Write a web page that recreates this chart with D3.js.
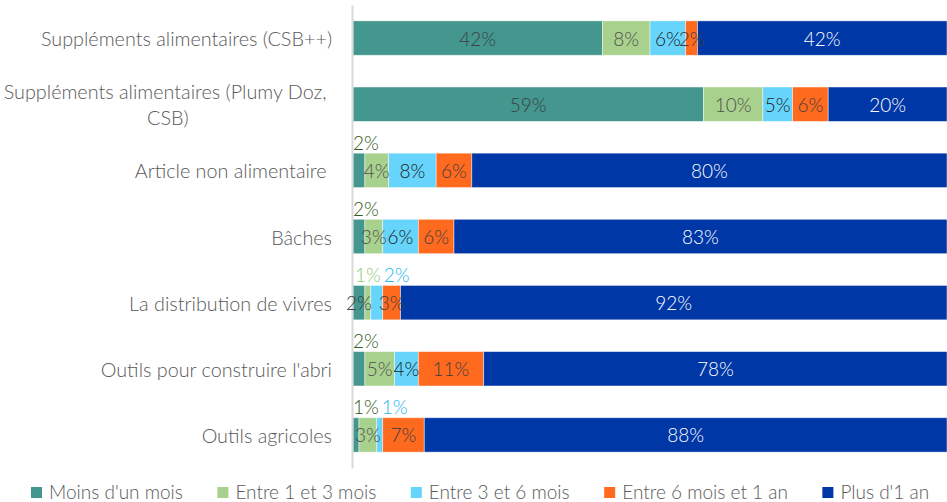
<!DOCTYPE html>
<html>
<head>
<meta charset="utf-8">
<script src="https://cdn.jsdelivr.net/npm/d3@7"></script>
<style>
  html, body { margin: 0; padding: 0; background: #fff; }
  svg { display: block; font-family: "Lato", "Open Sans", sans-serif; font-weight: 300; }
  text { white-space: pre; }
</style>
</head>
<body>
<svg id="chart" width="947" height="502"></svg>
<script>
// Categories (top to bottom); a "\n" marks a forced line break in the label
const categories = [
  "Suppléments alimentaires (CSB++)",
  "Suppléments alimentaires (Plumy Doz, \nCSB)",
  "Article non alimentaire ",
  "Bâches",
  "La distribution de vivres",
  "Outils pour construire l'abri",
  "Outils agricoles"
];

// Series names (legend order, stacked left to right)
const seriesNames = [
  "Moins d'un mois",
  "Entre 1 et 3 mois",
  "Entre 3 et 6 mois",
  "Entre 6 mois et 1 an",
  "Plus d'1 an"
];

// Shares in percent, one array per series, in category order
const moinsUnMois   = [42, 59, 2, 2, 2, 2, 1];
const entre1et3     = [8, 10, 4, 3, 1, 5, 3];
const entre3et6     = [6, 5, 8, 6, 2, 4, 1];
const entre6et12    = [2, 6, 6, 6, 3, 11, 7];
const plusUnAn      = [42, 20, 80, 83, 92, 78, 88];

// Data labels that sit above their bar: [category index, series index]
const labelsAbove = [[2, 0], [3, 0], [4, 1], [4, 2], [5, 0], [6, 0], [6, 2]];

const seriesValues = [moinsUnMois, entre1et3, entre3et6, entre6et12, plusUnAn];
const colors      = ["#43978e", "#a9d18e", "#66d4fb", "#ff6a1f", "#0037a6"];
const insideInk   = ["#3f3f3f", "#505050", "#1b1b1b", "#404040", "#ffffff"];
const aboveInk    = ["#2f5a20", "#98c77a", "#22b8ee", "#404040", "#404040"];

const svg = d3.select("#chart");
const plotLeft = 353, plotRight = 947, plotTop = 5, plotBottom = 468;

const x = d3.scaleLinear().domain([0, 100]).range([plotLeft, plotRight]);
const y = d3.scaleBand().domain(d3.range(categories.length))
  .range([plotTop, plotBottom]).paddingInner(0.48).paddingOuter(0.24);

// Build rows and stack
const rows = categories.map((c, i) => {
  const r = { idx: i };
  seriesNames.forEach((s, k) => { r[s] = seriesValues[k][i]; });
  return r;
});
const stacked = d3.stack().keys(seriesNames)(rows);

// Bars
const layers = svg.append("g").selectAll("g").data(stacked).join("g")
  .attr("fill", (d, k) => colors[k]);
layers.selectAll("rect").data(d => d).join("rect")
  .attr("x", d => x(d[0]))
  .attr("y", d => y(d.data.idx))
  .attr("width", d => x(d[1]) - x(d[0]))
  .attr("height", y.bandwidth())
  .attr("stroke", "#ffffff")
  .attr("stroke-opacity", 0.55)
  .attr("stroke-width", 0.8);

// Category axis (a plain vertical rule)
const axis = svg.append("g")
  .attr("transform", `translate(${plotLeft - 1},0)`)
  .call(d3.axisLeft(y).tickSize(0).tickFormat(""));
axis.select(".domain").attr("stroke", "#d9d9d9").attr("stroke-width", 2);

// Category labels, right-aligned; wrapped lines centred on one another
const catFont = 19.8, lineH = 26, labelRight = 332;
const catG = svg.append("g").attr("fill", "#595959").style("font-size", catFont + "px");
categories.forEach((c, i) => {
  const lines = c.split("\n");
  const cy = y(i) + y.bandwidth() / 2;
  const t = catG.append("text").attr("text-anchor", "middle");
  const spans = lines.map((ln, j) => t.append("tspan").text(ln));
  const widths = spans.map(s => s.node().getComputedTextLength());
  const w = d3.max(widths);
  const cx = labelRight - w / 2;
  const y0 = cy - (lines.length - 1) * lineH / 2;
  t.attr("dominant-baseline", "central");
  spans.forEach((s, j) => s.attr("x", cx).attr("y", y0 + j * lineH));
});

// Data labels
const labFont = 19;
const lg = svg.append("g").style("font-size", labFont + "px");
const isAbove = (i, k) => labelsAbove.some(p => p[0] === i && p[1] === k);
categories.forEach((c, i) => {
  let cursor = plotLeft;
  seriesNames.forEach((s, k) => {
    const seg = stacked[k][i];
    const txt = seriesValues[k][i] + "%";
    const mid = (x(seg[0]) + x(seg[1])) / 2;
    if (isAbove(i, k)) {
      const t = lg.append("text").attr("fill", aboveInk[k])
        .attr("y", y(i) - 11).attr("dominant-baseline", "central")
        .attr("text-anchor", "start").text(txt);
      const w = t.node().getComputedTextLength();
      const sx = Math.max(cursor, mid - w / 2, plotLeft);
      t.attr("x", sx);
      cursor = sx + w + 3;
    } else {
      lg.append("text").attr("fill", insideInk[k])
        .attr("x", mid).attr("y", y(i) + y.bandwidth() / 2)
        .attr("dominant-baseline", "central").attr("text-anchor", "middle")
        .text(txt);
    }
  });
});

// Legend along the bottom
const legG = svg.append("g").style("font-size", "19px");
let lx = 31;
seriesNames.forEach((s, k) => {
  legG.append("rect").attr("x", lx).attr("y", 487).attr("width", 11).attr("height", 11)
    .attr("fill", colors[k]);
  const t = legG.append("text").attr("x", lx + 18).attr("y", 491.5)
    .attr("dominant-baseline", "central").attr("fill", "#595959").text(s);
  lx += 18 + t.node().getComputedTextLength() + 34.5;
});
</script>
</body>
</html>
